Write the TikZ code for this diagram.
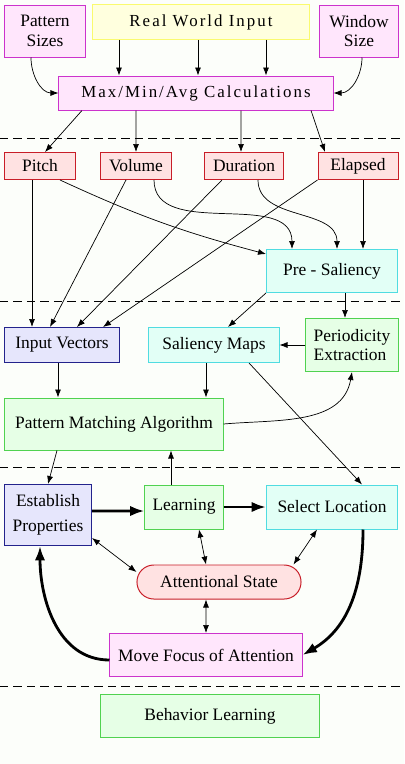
\documentclass[tikz,border=0pt]{standalone}
\usepackage{fontspec}
\setmainfont{Liberation Serif}
\newfontfamily\spacedfont{Liberation Serif}[LetterSpace=12]
\usetikzlibrary{arrows.meta}

\definecolor{pinkfill}{RGB}{255,230,252}
\definecolor{pinkline}{RGB}{204,51,204}
\definecolor{yellowfill}{RGB}{255,255,222}
\definecolor{yellowline}{RGB}{250,250,110}
\definecolor{redfill}{RGB}{255,226,226}
\definecolor{redline}{RGB}{200,30,40}
\definecolor{cyanfill}{RGB}{226,255,246}
\definecolor{cyanline}{RGB}{80,220,225}
\definecolor{bluefill}{RGB}{230,230,252}
\definecolor{blueline}{RGB}{35,35,140}
\definecolor{greenfill}{RGB}{230,255,230}
\definecolor{greenline}{RGB}{80,210,80}
\definecolor{paper}{RGB}{252,254,250}

\begin{document}
\begin{tikzpicture}[x=0.025cm, y=-0.025cm, >={Latex[length=2mm,width=1.5mm]},
  font=\fontsize{12.4}{13.8}\selectfont,
  box/.style={draw, line width=0.7pt, inner sep=2pt, align=center},
  inbox/.style={box, fill=pinkfill, draw=pinkline},
  worldbox/.style={box, fill=yellowfill, draw=yellowline, font=\spacedfont\fontsize{12}{13.5}\selectfont},
  featbox/.style={box, fill=redfill, draw=redline, minimum height=0.675cm},
  salbox/.style={box, fill=cyanfill, draw=cyanline},
  vecbox/.style={box, fill=bluefill, draw=blueline},
  procbox/.style={box, fill=greenfill, draw=greenline},
  statebox/.style={box, fill=redfill, draw=redline, rounded corners=0.42cm},
  thin/.style={line width=0.5pt},
  heavy/.style={line width=2pt, -{Latex[length=3.6mm,width=2.6mm]}},
  sep/.style={line width=0.6pt, dash pattern=on 6pt off 3.6pt}]

  \fill[paper] (0,0) rectangle (404,764);
  \useasboundingbox (0,0) rectangle (404,764);

  % input stage
  \node[inbox, minimum width=2cm, minimum height=1.3cm] (psize) at (45,31) {Pattern\\Sizes};
  \node[worldbox, minimum width=5.425cm, minimum height=0.875cm] (rwi) at (201,22) {Real World Input};
  \node[inbox, minimum width=1.975cm, minimum height=1.3cm] (wsize) at (359,31) {Window\\Size};
  \node[inbox, font=\spacedfont\fontsize{12}{13.5}\selectfont, minimum width=6.85cm, minimum height=0.85cm] (calc) at (196,93) {Max/Min/Avg Calculations};

  % features
  \node[featbox, minimum width=1.75cm] (pitch) at (40,166) {Pitch};
  \node[featbox, minimum width=1.75cm] (volume) at (136,166) {Volume};
  \node[featbox, minimum width=1.975cm] (duration) at (244,166) {Duration};
  \node[featbox, minimum width=2cm] (elapsed) at (358,166) {Elapsed};
  \node[salbox, minimum width=3.275cm, minimum height=1.075cm] (presal) at (332,271) {Pre - Saliency};

  % vectors and maps
  \node[vecbox, minimum width=2.85cm, minimum height=0.875cm] (ivec) at (62,345) {Input Vectors};
  \node[salbox, minimum width=3.25cm, minimum height=0.875cm] (smaps) at (214,345) {Saliency Maps};
  \node[procbox, align=left, minimum width=2.3cm, minimum height=1.325cm] (period) at (352,345) {Periodicity\\Extraction};
  \node[procbox, minimum width=5.45cm, minimum height=1.3cm] (pmatch) at (114,424) {Pattern Matching Algorithm};

  % attention loop
  \node[vecbox, minimum width=2.175cm, minimum height=1.525cm] (props) at (48,515) {Establish\\[4pt]Properties};
  \node[procbox, minimum width=1.95cm, minimum height=1.1cm] (learn) at (184,507) {Learning};
  \node[salbox, minimum width=3.275cm, minimum height=1.1cm] (select) at (332,507) {Select Location};
  \node[statebox, minimum width=4.1cm, minimum height=0.85cm] (astate) at (219,582) {Attentional State};
  \node[inbox, minimum width=4.8cm, minimum height=1.075cm] (focus) at (206,655) {Move Focus of Attention};

  \node[procbox, minimum width=5.45cm, minimum height=1.075cm] (behave) at (210,716) {Behavior Learning};

  % separators
  \foreach \y in {138,301,467,686}
    \draw[sep] (0,\y) -- (404,\y);

  \path[->, thin]
    ([xshift=-2.05cm]rwi.south) edge ([xshift=-2.05cm]rwi.south |- calc.north)
    ([xshift=-0.075cm]rwi.south) edge ([xshift=-0.075cm]rwi.south |- calc.north)
    ([xshift=1.625cm]rwi.south) edge ([xshift=1.625cm]rwi.south |- calc.north)
    ([xshift=-0.35cm]psize.south) edge[out=-90, in=180] (calc.west)
    ([xshift=0.075cm]wsize.south) edge[out=-90, in=0] (calc.east)
    ([xshift=-2.85cm]calc.south) edge ([xshift=0.125cm]pitch.north)
    ([xshift=-1.5cm]calc.south) edge (volume.north)
    ([xshift=1.125cm]calc.south) edge ([xshift=-0.075cm]duration.north)
    ([xshift=2.875cm]calc.south) edge ([xshift=-0.825cm]elapsed.north);

  \path[->, thin]
    ([xshift=-0.2cm]pitch.south) edge ([xshift=-0.2cm]pitch.south |- ivec.north)
    ([xshift=0.5cm]pitch.south) edge[bend right=5] ([yshift=-0.125cm]presal.north west)
    ([xshift=-0.25cm]volume.south) edge ([xshift=-0.3cm]ivec.north)
    ([xshift=0.45cm]volume.south) edge[out=-90, in=90] ([xshift=-1cm]presal.north)
    ([xshift=-0.55cm]duration.south) edge ([xshift=0.375cm]ivec.north)
    ([xshift=0.35cm]duration.south) edge[out=-90, in=90] ([xshift=0.125cm]presal.north)
    (elapsed.south west) edge ([xshift=1.025cm]ivec.north)
    ([xshift=0.125cm]elapsed.south) edge ([xshift=0.125cm]elapsed.south |- presal.north);

  \path[->, thin]
    (presal.south west) edge ([xshift=0.35cm]smaps.north)
    ([xshift=0.325cm]presal.south) edge ([xshift=0.325cm]presal.south |- period.north)
    (period.west) edge (smaps.east)
    ([xshift=-0.1cm]ivec.south) edge ([xshift=-0.1cm]ivec.south |- pmatch.north)
    ([xshift=-0.2cm]smaps.south) edge ([xshift=-0.2cm]smaps.south |- pmatch.north)
    (pmatch.east) edge[out=5, in=-100] (period.south)
    ([xshift=0.875cm]smaps.south) edge ([xshift=0.75cm]select.north)
    ([xshift=-1.425cm]pmatch.south) edge (props.north)
    ([xshift=-0.325cm]learn.north) edge ([xshift=-0.325cm]learn.north |- pmatch.south);

  \path[<->, thin]
    ([yshift=0.2cm]props.south east) edge ([yshift=0.25cm]astate.west)
    ([xshift=0.375cm]learn.south) edge ([xshift=-0.325cm]astate.north)
    ([xshift=-0.375cm]select.south) edge ([xshift=-0.2cm]astate.north east)
    ([xshift=-0.325cm]astate.south) edge (focus.north);

  \draw[heavy] ([yshift=0.1cm]props.east) -- ([yshift=-0.1cm]learn.west);
  \draw[heavy] (learn.east) -- (select.west);
  \draw[heavy] ([xshift=0.775cm]select.south) to[out=-90, in=30] (focus.east);
  \draw[heavy] ([yshift=-0.125cm]focus.west) to[out=180, in=-90] ([xshift=-0.2cm]props.south);
\end{tikzpicture}
\end{document}
